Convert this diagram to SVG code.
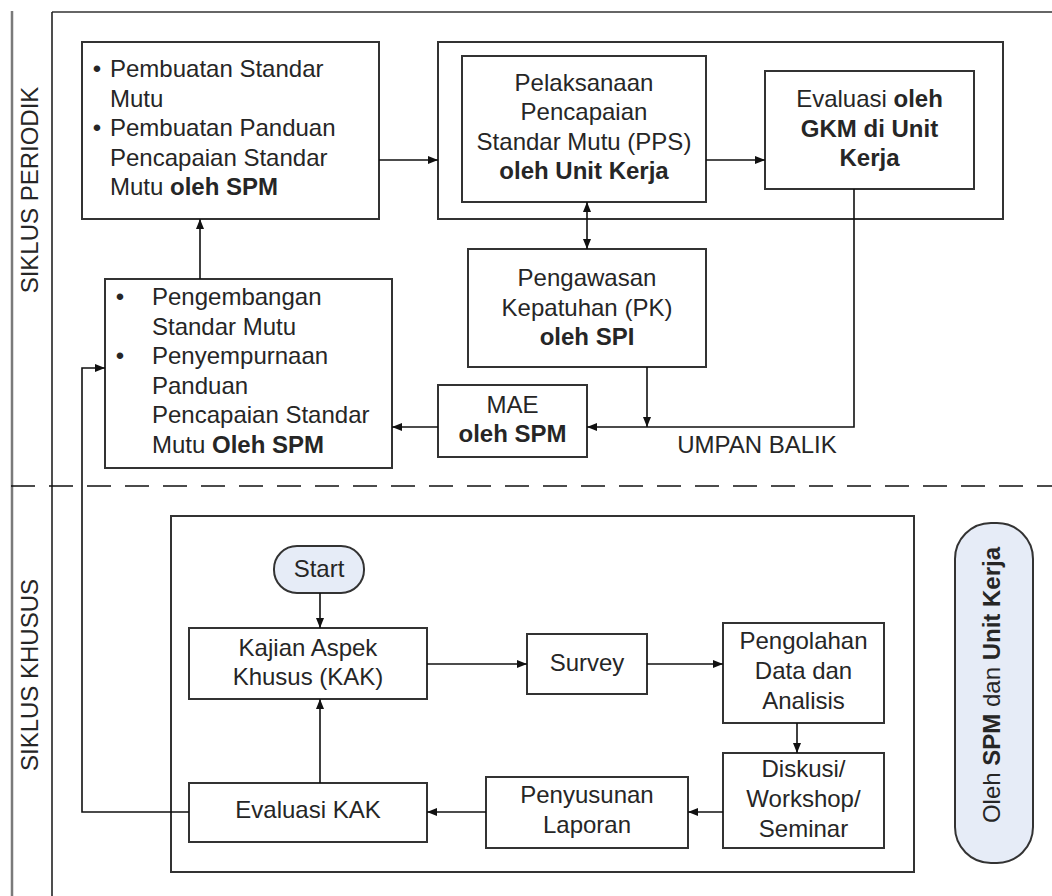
<svg xmlns="http://www.w3.org/2000/svg" width="1052" height="896" viewBox="0 0 1052 896">
<style>
.box{fill:#fff;stroke:#333;stroke-width:2}
.pill{fill:#e6ecf7;stroke:#333;stroke-width:2}
.t{font-family:"Liberation Sans",Arial,sans-serif;font-size:24px;fill:#262626}
.c{text-anchor:middle}
.b{font-weight:bold}
.con{fill:none;stroke:#111;stroke-width:1.6}
.frame{fill:none;stroke:#333;stroke-width:1.6}
</style>
<defs>
<marker id="ah" viewBox="0 0 10 10" refX="10" refY="5" markerWidth="10" markerHeight="10" markerUnits="userSpaceOnUse" orient="auto-start-reverse">
<path d="M0,1 L10,5 L0,9 z" fill="#111"/>
</marker>
</defs>
<rect width="1052" height="896" fill="#fff"/>
<g id="frame">
<line x1="12" y1="11" x2="12" y2="896" stroke="#7a7a7a" stroke-width="2.5"/>
<line x1="52" y1="12" x2="1052" y2="12" stroke="#666" stroke-width="2"/>
<line x1="52" y1="12" x2="52" y2="896" stroke="#222" stroke-width="1.6"/>
<line x1="11" y1="486" x2="1052" y2="486" stroke="#111" stroke-width="1.6" stroke-dasharray="24 14"/>
<text class="t c" transform="translate(38,190) rotate(-90)">SIKLUS PERIODIK</text>
<text class="t c" transform="translate(38,675) rotate(-90)">SIKLUS KHUSUS</text>
</g>
<g id="group-pps">
<rect class="box" x="438" y="42" width="565" height="177"/>
</g>
<g id="khusus-frame">
<rect class="box" x="171" y="516" width="743" height="356"/>
</g>
<g id="pembuatan">
<rect class="box" x="82" y="42" width="297" height="177"/>
<text class="t c" x="97" y="77">•</text>
<text class="t" x="110" y="77">Pembuatan Standar</text>
<text class="t" x="110" y="106.5">Mutu</text>
<text class="t c" x="97" y="136">•</text>
<text class="t" x="110" y="136">Pembuatan Panduan</text>
<text class="t" x="110" y="165.5">Pencapaian Standar</text>
<text class="t" x="110" y="195">Mutu <tspan class="b">oleh SPM</tspan></text>
</g>
<g id="pps">
<rect class="box" x="462" y="56" width="244" height="146"/>
<text class="t c" x="584" y="90.5">Pelaksanaan</text>
<text class="t c" x="584" y="120">Pencapaian</text>
<text class="t c" x="584" y="149.5">Standar Mutu (PPS)</text>
<text class="t c b" x="584" y="179">oleh Unit Kerja</text>
</g>
<g id="evaluasi-gkm">
<rect class="box" x="765" y="71" width="209" height="118"/>
<text class="t c" x="869.5" y="107">Evaluasi <tspan class="b">oleh</tspan></text>
<text class="t c b" x="869.5" y="136.5">GKM di Unit</text>
<text class="t c b" x="869.5" y="166">Kerja</text>
</g>
<g id="pengawasan">
<rect class="box" x="468" y="249" width="238" height="118"/>
<text class="t c" x="587" y="286">Pengawasan</text>
<text class="t c" x="587" y="315.5">Kepatuhan (PK)</text>
<text class="t c b" x="587" y="345">oleh SPI</text>
</g>
<g id="mae">
<rect class="box" x="438" y="385" width="149" height="72"/>
<text class="t c" x="512.5" y="413">MAE</text>
<text class="t c b" x="512.5" y="442">oleh SPM</text>
</g>
<g id="pengembangan">
<rect class="box" x="105" y="279" width="287" height="189"/>
<text class="t c" x="120" y="305">•</text>
<text class="t" x="152" y="305">Pengembangan</text>
<text class="t" x="152" y="334.5">Standar Mutu</text>
<text class="t c" x="120" y="364">•</text>
<text class="t" x="152" y="364">Penyempurnaan</text>
<text class="t" x="152" y="393.5">Panduan</text>
<text class="t" x="152" y="423">Pencapaian Standar</text>
<text class="t" x="152" y="452.5">Mutu <tspan class="b">Oleh SPM</tspan></text>
</g>
<g id="umpan-balik">
<text class="t c" x="757" y="453">UMPAN BALIK</text>
</g>
<g id="start">
<rect class="pill" x="274" y="546" width="90" height="47" rx="23" ry="23"/>
<text class="t c" x="319" y="577">Start</text>
</g>
<g id="kajian">
<rect class="box" x="189" y="628" width="238" height="71"/>
<text class="t c" x="308" y="656">Kajian Aspek</text>
<text class="t c" x="308" y="685">Khusus (KAK)</text>
</g>
<g id="survey">
<rect class="box" x="527" y="634" width="120" height="60"/>
<text class="t c" x="587" y="671">Survey</text>
</g>
<g id="pengolahan">
<rect class="box" x="723" y="623" width="161" height="100"/>
<text class="t c" x="803.5" y="649">Pengolahan</text>
<text class="t c" x="803.5" y="679">Data dan</text>
<text class="t c" x="803.5" y="709">Analisis</text>
</g>
<g id="diskusi">
<rect class="box" x="723" y="753" width="161" height="95"/>
<text class="t c" x="803.5" y="777">Diskusi/</text>
<text class="t c" x="803.5" y="807">Workshop/</text>
<text class="t c" x="803.5" y="837">Seminar</text>
</g>
<g id="penyusunan">
<rect class="box" x="486" y="777" width="202" height="71"/>
<text class="t c" x="587" y="803">Penyusunan</text>
<text class="t c" x="587" y="833">Laporan</text>
</g>
<g id="evaluasi-kak">
<rect class="box" x="189" y="783" width="238" height="59"/>
<text class="t c" x="308" y="818">Evaluasi KAK</text>
</g>
<g id="oleh-spm-unit">
<rect class="pill" x="955" y="523" width="78" height="340" rx="36" ry="36"/>
<text class="t c" transform="translate(1000,685) rotate(-90)">Oleh <tspan class="b">SPM</tspan> dan <tspan class="b">Unit Kerja</tspan></text>
</g>
<g id="connectors">
<path class="con" d="M379,160 H438" marker-end="url(#ah)"/>
<path class="con" d="M706,160 H765" marker-end="url(#ah)"/>
<path class="con" d="M587,202 V249" marker-start="url(#ah)" marker-end="url(#ah)"/>
<path class="con" d="M854,189 V427 H587" marker-end="url(#ah)"/>
<path class="con" d="M647,367 V427" marker-end="url(#ah)"/>
<path class="con" d="M438,427 H392" marker-end="url(#ah)"/>
<path class="con" d="M200,279 V219" marker-end="url(#ah)"/>
<path class="con" d="M320,593 V628" marker-end="url(#ah)"/>
<path class="con" d="M427,664 H527" marker-end="url(#ah)"/>
<path class="con" d="M647,664 H723" marker-end="url(#ah)"/>
<path class="con" d="M797,723 V753" marker-end="url(#ah)"/>
<path class="con" d="M723,812 H688" marker-end="url(#ah)"/>
<path class="con" d="M486,812 H427" marker-end="url(#ah)"/>
<path class="con" d="M320,783 V699" marker-end="url(#ah)"/>
<path class="con" d="M189,812 H82 V368 H105" marker-end="url(#ah)"/>
</g>
</svg>
